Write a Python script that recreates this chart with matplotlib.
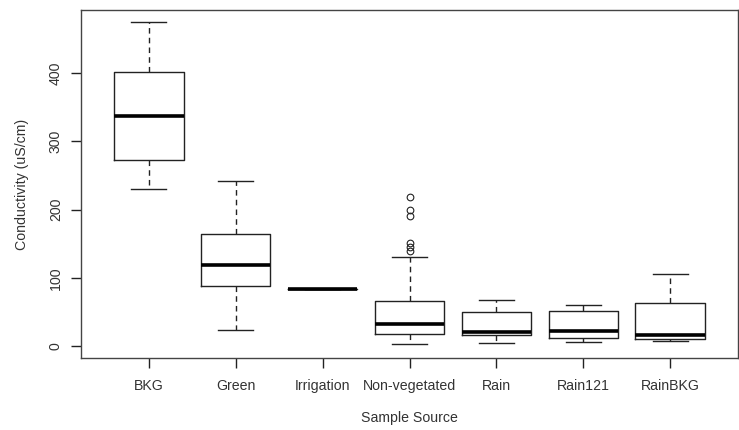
import matplotlib
matplotlib.use('Agg')
import matplotlib.pyplot as plt

plt.rcParams['font.family'] = ['Liberation Sans', 'DejaVu Sans']

# Box statistics (uS/cm)
sources = ['BKG', 'Green', 'Irrigation', 'Non-vegetated', 'Rain', 'Rain121', 'RainBKG']
whisker_low = [230, 24, 84, 3.5, 5, 7, 8]
q1 = [273, 89, 84, 18, 17, 12, 11]
median = [337, 119, 84, 32, 21, 22, 17]
q3 = [402, 164, 84, 66, 50, 52, 63]
whisker_high = [474, 242, 84, 130, 68, 61, 106]
outliers = [[], [], [], [139, 145, 151, 190, 200, 219], [], [], []]

line_col = '#222222'
text_col = '#333333'

stats = []
for i, name in enumerate(sources):
    stats.append({'label': name, 'whislo': whisker_low[i], 'q1': q1[i], 'med': median[i],
                  'q3': q3[i], 'whishi': whisker_high[i], 'fliers': outliers[i]})

fig = plt.figure(figsize=(7.39, 4.30), dpi=100)
ax = fig.add_axes([81 / 739, 72 / 430, 657 / 739, 348 / 430])

ax.bxp(stats, positions=range(1, len(sources) + 1), widths=0.8,
       boxprops=dict(color=line_col, linewidth=1),
       medianprops=dict(color='black', linewidth=2.6, solid_capstyle='butt'),
       whiskerprops=dict(color=line_col, linewidth=1, linestyle=(0, (4, 3))),
       capprops=dict(color=line_col, linewidth=1),
       capwidths=0.4,
       flierprops=dict(marker='o', markerfacecolor='none', markeredgecolor=line_col,
                       markersize=4.8, markeredgewidth=0.8))

ax.set_xlim(0.22, 7.78)
ax.set_ylim(-17, 492)
ax.set_yticks([0, 100, 200, 300, 400])
ax.set_yticklabels(['0', '100', '200', '300', '400'], rotation=90, va='center')
ax.tick_params(axis='both', direction='out', length=7, width=1, color=line_col,
               labelsize=10.2, labelcolor=text_col, pad=6)
ax.tick_params(axis='x', pad=8)
for s in ax.spines.values():
    s.set_color('#444444')
    s.set_linewidth(1)

ax.set_xlabel('Sample Source', fontsize=10.2, color=text_col, labelpad=13)
ax.set_ylabel('Conductivity (uS/cm)', fontsize=10.2, color=text_col, labelpad=14)

fig.savefig('out.png', dpi=100)
